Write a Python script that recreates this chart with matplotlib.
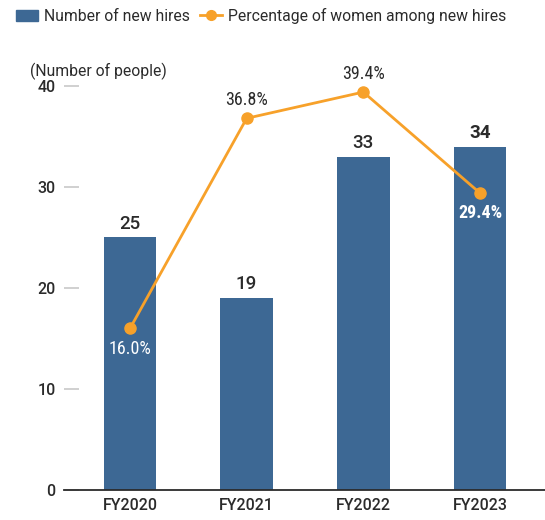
import matplotlib.pyplot as plt
from matplotlib.patches import Patch
from matplotlib.lines import Line2D
from matplotlib import font_manager

plt.rcParams['font.family'] = ['Roboto', 'DejaVu Sans']

years = ['FY2020', 'FY2021', 'FY2022', 'FY2023']
new_hires = [25, 19, 33, 34]
women_pct = [16.0, 36.8, 39.4, 29.4]
# label placement of the percentages: above or below the marker
pct_above = [False, True, True, False]

bar_color = '#3d6894'
line_color = '#f7a12a'
text_color = '#2b2b2b'

names = {f.name for f in font_manager.fontManager.ttflist}
pct_family = ['Roboto Condensed', 'Roboto'] if 'Roboto Condensed' in names else ['Roboto']

fig = plt.figure(figsize=(5.45, 5.2), dpi=100)
ax = fig.add_axes([64 / 545, 30 / 520, 482 / 545, 404 / 520])

x = list(range(len(years)))
ax.bar(x, new_hires, width=0.45, color=bar_color, zorder=2)
ax.set_xlim(-0.566, 3.566)
ax.set_ylim(0, 40)
ax.set_yticks([0, 10, 20, 30, 40])

for s in ['top', 'right', 'left']:
    ax.spines[s].set_visible(False)
ax.spines['bottom'].set_color(text_color)
ax.spines['bottom'].set_linewidth(1.3)

ax.tick_params(axis='y', direction='in', length=10.5, width=1.2, color='#c8c8c8',
               pad=6, labelsize=11.5, labelcolor=text_color)
ax.tick_params(axis='x', length=0, pad=6, labelsize=11.5, labelcolor=text_color)
ax.set_xticks(x)
ax.set_xticklabels(years, fontweight='medium')
for lab in ax.get_yticklabels():
    lab.set_fontweight('medium')

for i, v in enumerate(new_hires):
    w = 'bold' if i == len(new_hires) - 1 else 'medium'
    ax.annotate(str(v), (i, v), xytext=(0, 10), textcoords='offset points',
                ha='center', va='center', fontsize=13.5, fontweight=w, color=text_color)

# percentage line on a hidden second axis with the same scale
ax2 = ax.twinx()
ax2.set_ylim(0, 40)
ax2.axis('off')
ax2.plot(x, women_pct, color=line_color, lw=2, marker='o', ms=8, zorder=3)

for i, p in enumerate(women_pct):
    if pct_above[i]:
        off, col = 13, text_color
    else:
        off, col = -14.5, 'white'
    w = 'bold' if i == len(women_pct) - 1 else 'normal'
    ax2.annotate(f'{p:.1f}%', (i, p), xytext=(0, off), textcoords='offset points',
                 ha='center', va='center', fontsize=13, fontweight=w, color=col,
                 family=pct_family, annotation_clip=False)

fig.text(30 / 545, 1 - 71 / 520, '(Number of people)', fontsize=11.3,
         color=text_color, va='center', ha='left')

handles = [Patch(color=bar_color),
           Line2D([], [], color=line_color, lw=2, marker='o', ms=7)]
fig.legend(handles, ['Number of new hires', 'Percentage of women among new hires'],
           loc='center left', bbox_to_anchor=(2 / 545, 1 - 15.5 / 520), ncol=2,
           frameon=False, fontsize=11.3, handlelength=1.4, handletextpad=0.4,
           columnspacing=0.6, labelcolor=text_color)

plt.savefig('out.png', dpi=100)
